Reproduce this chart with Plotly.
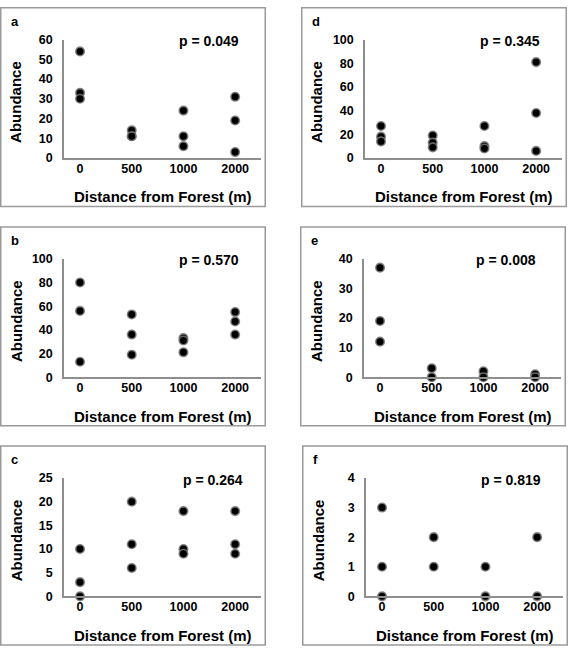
import plotly.graph_objects as go

# ---------------- data ----------------
distance_labels = ["0", "500", "1000", "2000"]

a_x = ["0", "0", "0", "500", "500", "500", "1000", "1000", "1000", "2000", "2000", "2000"]
a_y = [54, 33, 30, 14, 11, 11, 24, 11, 6, 31, 19, 3]

b_x = ["0", "0", "0", "500", "500", "500", "1000", "1000", "1000", "2000", "2000", "2000"]
b_y = [80, 56, 13, 53, 36, 19, 33, 31, 21, 55, 47, 36]

c_x = ["0", "0", "0", "500", "500", "500", "1000", "1000", "1000", "2000", "2000", "2000"]
c_y = [10, 3, 0, 20, 11, 6, 18, 10, 9, 18, 11, 9]

d_x = ["0", "0", "0", "500", "500", "500", "1000", "1000", "1000", "2000", "2000", "2000"]
d_y = [27, 18, 14, 19, 13, 9, 27, 10, 8, 81, 38, 6]

e_x = ["0", "0", "0", "500", "500", "1000", "1000", "2000", "2000"]
e_y = [37, 19, 12, 3, 0, 2, 0, 1, 0]

f_x = ["0", "0", "0", "500", "500", "1000", "1000", "2000", "2000"]
f_y = [3, 1, 0, 2, 1, 1, 0, 2, 0]

panel_letters = ["a", "b", "c", "d", "e", "f"]
p_values = ["0.049", "0.570", "0.264", "0.345", "0.008", "0.819"]
y_max = [60, 100, 25, 100, 40, 4]
y_step = [10, 20, 5, 20, 10, 1]

# ---------------- layout geometry (pixels) ----------------
W, H = 568, 652
# box left / top for each panel (a,b,c left column; d,e,f right column)
box_left = [0, 0, 0, 301, 300, 302]
box_top = [0, 224, 448, 0, 224, 448]
box_w = 265
box_h = 204
p_center = [209, 209, 213, 209, 206, 209]

FONT = "Liberation Sans, Arial, Helvetica, sans-serif"
AXIS_GRAY = "#8e8e8e"


def fx(x):
    return x / W


def fy(y):
    return 1 - y / H


xs = [a_x, b_x, c_x, d_x, e_x, f_x]
ys = [a_y, b_y, c_y, d_y, e_y, f_y]

fig = go.Figure()
layout = dict(
    width=W, height=H,
    margin=dict(l=0, r=0, t=0, b=0),
    paper_bgcolor="white", plot_bgcolor="white",
    showlegend=False,
    font=dict(family=FONT, color="black"),
)
annotations = []
shapes = []

for i in range(6):
    L, T = box_left[i], box_top[i]
    n = "" if i == 0 else str(i + 1)
    fig.add_trace(go.Scatter(
        x=xs[i], y=ys[i], mode="markers",
        xaxis="x" + n, yaxis="y" + n,
        cliponaxis=False,
        marker=dict(size=8.5, color="black",
                    line=dict(color="rgba(120,120,120,0.85)", width=1.6)),
        hoverinfo="x+y",
    ))
    layout["xaxis" + n] = dict(
        type="category", categoryorder="array", categoryarray=distance_labels,
        domain=[fx(L + 64), fx(L + 261)],
        range=[-0.31, 3.5],
        anchor="y" + n,
        showline=True, linecolor=AXIS_GRAY, linewidth=1.5,
        showgrid=False, zeroline=False, ticks="",
        ticklabelstandoff=-2,
        tickfont=dict(family=FONT, size=12.5, weight="bold", color="black"),
        fixedrange=True,
    )
    layout["yaxis" + n] = dict(
        domain=[fy(T + 154.3), fy(T + 33.3)],
        range=[0, y_max[i]], dtick=y_step[i], tick0=0,
        anchor="x" + n,
        showline=True, linecolor=AXIS_GRAY, linewidth=1.5,
        showgrid=False, zeroline=False, ticks="",
        ticklabelstandoff=7,
        tickfont=dict(family=FONT, size=12.5, weight="bold", color="black"),
        fixedrange=True,
    )
    # panel border
    shapes.append(dict(type="rect", xref="paper", yref="paper",
                       x0=fx(L + 0.75), x1=fx(L + box_w + 0.25),
                       y0=fy(T + box_h), y1=fy(T + 0.75),
                       line=dict(color="#9a9a9a", width=1.5), layer="below"))
    # panel letter
    annotations.append(dict(text=panel_letters[i], xref="paper", yref="paper",
                            x=fx(L + 9), y=fy(T + 14.5), xanchor="left", yanchor="middle",
                            showarrow=False,
                            font=dict(family=FONT, size=13, weight="bold", color="black")))
    # p value
    annotations.append(dict(text="p = " + p_values[i], xref="paper", yref="paper",
                            x=fx(L + p_center[i]), y=fy(T + 35), xanchor="center", yanchor="middle",
                            showarrow=False,
                            font=dict(family=FONT, size=14, weight="bold", color="black")))
    # y title
    annotations.append(dict(text="Abundance", xref="paper", yref="paper",
                            x=fx(L + 16), y=fy(T + 97), xanchor="center", yanchor="middle",
                            textangle=-90, showarrow=False,
                            font=dict(family=FONT, size=15, weight="bold", color="black")))
    # x title
    annotations.append(dict(text="Distance from Forest (m)", xref="paper", yref="paper",
                            x=fx(L + 162.5), y=fy(T + 194), xanchor="center", yanchor="middle",
                            showarrow=False,
                            font=dict(family=FONT, size=15, weight="bold", color="black")))

layout["annotations"] = annotations
layout["shapes"] = shapes
fig.update_layout(**layout)
fig.write_html("out.html", config={"displayModeBar": False},
               post_script="document.body.style.margin='0px';document.body.style.overflow='hidden';")
